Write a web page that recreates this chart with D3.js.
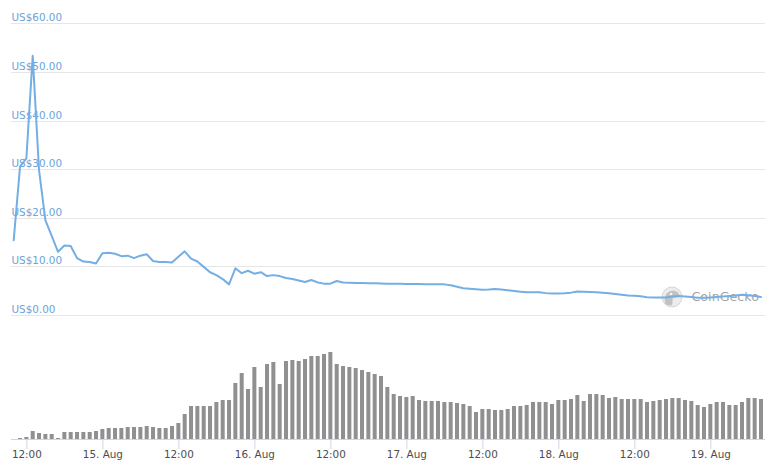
<!DOCTYPE html>
<html>
<head>
<meta charset="utf-8">
<script src="https://cdn.jsdelivr.net/npm/d3@7/dist/d3.min.js"></script>
<style>
  html, body { margin: 0; padding: 0; background: #fff; }
  svg { display: block; }
</style>
</head>
<body>
<svg id="chart" width="783" height="470"></svg>
<script>
// ---- Data (hourly) ----
const priceStart = Date.UTC(2019, 7, 14, 10);   // first price point: 14 Aug 10:00
const volumeStart = Date.UTC(2019, 7, 14, 11);  // first volume bar: 14 Aug 11:00

const priceValues = [
  15.4, 30.5, 32.2, 53.3, 29.8, 19.5, 16.3, 13.0, 14.3, 14.2,
  11.7, 11.0, 10.9, 10.6, 12.7, 12.8, 12.6, 12.1, 12.2, 11.7,
  12.2, 12.5, 11.1, 10.9, 10.9, 10.8, 12.0, 13.1, 11.6, 11.0,
  9.9, 8.8, 8.2, 7.4, 6.3, 9.6, 8.6, 9.1, 8.5, 8.8,
  8.0, 8.2, 8.0, 7.6, 7.4, 7.1, 6.8, 7.2, 6.7, 6.45,
  6.45, 7.0, 6.7, 6.65, 6.6, 6.6, 6.55, 6.55, 6.5, 6.45,
  6.45, 6.42, 6.4, 6.4, 6.38, 6.33, 6.3, 6.3, 6.3, 6.1,
  5.8, 5.5, 5.4, 5.3, 5.2, 5.25, 5.35, 5.25, 5.1, 4.95,
  4.8, 4.66, 4.7, 4.7, 4.5, 4.4, 4.4, 4.45, 4.6, 4.85,
  4.8, 4.75, 4.7, 4.6, 4.46, 4.3, 4.15, 4.0, 3.95, 3.85,
  3.65, 3.58, 3.58, 3.62, 3.8, 3.9, 3.8, 3.7, 3.55, 3.55,
  3.62, 3.72, 3.8, 3.9, 4.0, 4.15, 4.05, 3.9, 3.72
];

const volumeValues = [
  1, 2, 8, 6, 5, 5, 1, 7, 7, 7,
  7, 7, 8, 10, 11, 11, 11, 12, 12, 12,
  13, 12, 11, 11, 13, 16, 25, 33, 33, 33,
  33, 37, 39, 39, 56, 66, 50, 72, 52, 75,
  77, 55, 78, 79, 78, 80, 83, 83, 85, 87,
  75, 73, 72, 71, 69, 67, 65, 63,
  52, 45, 43, 42, 43, 39, 38, 38, 38, 37,
  37, 36, 35, 33, 27, 30, 30, 29, 29, 30,
  33, 33, 34, 37, 37, 37, 35, 39, 39, 40,
  44, 38, 45, 45, 44, 41, 42, 40, 40, 40,
  40, 37, 38, 39, 40, 41, 41, 39, 38, 34,
  32, 35, 37, 37, 34, 34, 37, 41, 41, 40
];

const priceTicks = [0, 10, 20, 30, 40, 50, 60];
const xTickHours = ["2019-08-14T12:00Z", "2019-08-15T00:00Z", "2019-08-15T12:00Z", "2019-08-16T00:00Z",
  "2019-08-16T12:00Z", "2019-08-17T00:00Z", "2019-08-17T12:00Z", "2019-08-18T00:00Z",
  "2019-08-18T12:00Z", "2019-08-19T00:00Z"];
const xTickLabels = ["12:00", "15. Aug", "12:00", "16. Aug", "12:00", "17. Aug", "12:00", "18. Aug", "12:00", "19. Aug"];

// ---- Build ----
const HOUR = 3600 * 1000;
const priceData = priceValues.map((v, i) => ({ t: new Date(priceStart + i * HOUR), v }));
const volumeData = volumeValues.map((v, i) => ({ t: new Date(volumeStart + i * HOUR), v }));

const svg = d3.select("#chart");
const font = "'DejaVu Sans', Verdana, sans-serif";

const x = d3.scaleUtc()
  .domain([priceData[0].t, priceData[priceData.length - 1].t])
  .range([13.7, 761]);
const y = d3.scaleLinear().domain([0, 60]).range([315, 23.3]);
const yv = d3.scaleLinear().domain([0, 100]).range([439, 339]);

const plotLeft = 11, plotRight = 765;

// gridlines
svg.append("g").selectAll("line").data(priceTicks).join("line")
  .attr("x1", plotLeft).attr("x2", plotRight)
  .attr("y1", d => Math.round(y(d)) + 0.5).attr("y2", d => Math.round(y(d)) + 0.5)
  .attr("stroke", "#e6e6e6").attr("stroke-width", 1);

// y labels
svg.append("g").selectAll("text").data(priceTicks).join("text")
  .attr("x", 11.5).attr("y", d => y(d) - 2)
  .attr("font-family", font).attr("font-size", "10.4px")
  .attr("fill", "#6aa5da")
  .text(d => "US$" + d.toFixed(2));

// watermark
const wm = svg.append("g").attr("transform", "translate(672,297)");
wm.append("circle").attr("r", 10).attr("fill", "#ececec").attr("stroke", "#d6d6d6").attr("stroke-width", 1);
wm.append("path")
  .attr("d", "M-7,6 C-8,0 -6,-5 -1,-6 C3,-7 7,-5 7,-2 C7,0 4,1 1,1 C0,3 1,6 0,8 C-3,9 -6,8 -7,6 Z")
  .attr("fill", "#c2c2c2");
wm.append("circle").attr("cx", -1).attr("cy", -3).attr("r", 1.3).attr("fill", "#f4f4f4");
svg.append("text")
  .attr("x", 691.5).attr("y", 301)
  .attr("font-family", font).attr("font-size", "12.7px")
  .attr("fill", "#a3a3a3")
  .text("CoinGecko");

// price line
svg.append("path")
  .datum(priceData)
  .attr("fill", "none")
  .attr("stroke", "#74aee4")
  .attr("stroke-width", 2)
  .attr("stroke-linejoin", "round")
  .attr("stroke-linecap", "round")
  .attr("d", d3.line().x(d => x(d.t)).y(d => y(d.v)));

// volume bars
svg.append("g").selectAll("rect").data(volumeData).join("rect")
  .attr("x", d => x(d.t) - 2)
  .attr("width", 4)
  .attr("y", d => yv(d.v))
  .attr("height", d => yv(0) - yv(d.v))
  .attr("fill", "#909090");

// x axis
const tickDates = xTickHours.map(s => new Date(s));
const axis = d3.axisBottom(x)
  .tickValues(tickDates)
  .tickSize(10)
  .tickFormat((d, i) => xTickLabels[i]);
const gx = svg.append("g").attr("transform", "translate(0,439)").call(axis);
gx.select(".domain").remove();
gx.selectAll(".tick line").attr("stroke", "#ccd6eb");
gx.selectAll(".tick text")
  .attr("y", 19).attr("dy", 0)
  .attr("font-family", font).attr("font-size", "10.4px")
  .attr("fill", "#4d4d4d");
svg.append("line")
  .attr("x1", plotLeft).attr("x2", plotRight)
  .attr("y1", 439.5).attr("y2", 439.5)
  .attr("stroke", "#ccd6eb").attr("stroke-width", 1);
</script>
</body>
</html>
